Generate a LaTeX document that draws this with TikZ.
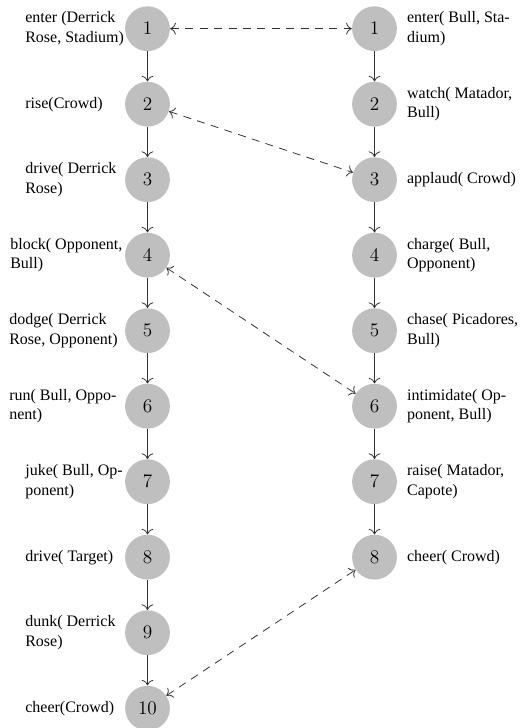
\documentclass[tikz,border=0pt]{standalone}
\usepackage{fontspec}
\setmainfont{Liberation Serif}
\usepackage{tikz}
\usetikzlibrary{arrows,arrows.meta,positioning}

\tikzset{
  >={To[scale=1.3]},
  event/.style={circle, fill=black!25, minimum size=28pt, inner sep=0pt, font=\large},
  evlabel/.style={inner sep=0pt, align=left},
  step line/.style={->, line width=0.5pt, black!80},
  link/.style={<->, line width=0.5pt, black!80, dash pattern=on 5pt off 4pt},
}

\begin{document}
\begin{tikzpicture}[x=0.625pt, y=-0.625pt]
    \useasboundingbox (0,0) rectangle (527,728);

    % Basketball story (left)
    \node[event] (b1) at (147.5,28.7) {$1$};
    \node[event] (b2) at (147.5,104.2) {$2$};
    \node[event] (b3) at (147.5,179.7) {$3$};
    \node[event] (b4) at (147.5,255.2) {$4$};
    \node[event] (b5) at (147.5,330.7) {$5$};
    \node[event] (b6) at (147.5,406.2) {$6$};
    \node[event] (b7) at (147.5,481.7) {$7$};
    \node[event] (b8) at (147.5,557.2) {$8$};
    \node[event] (b9) at (147.5,632.7) {$9$};
    \node[event] (b10) at (147.5,708.2) {$10$};

    \node[evlabel, anchor=west] (b1t) at (25,28.7) {enter (Derrick\\Rose, Stadium)};
    \node[evlabel, anchor=west] (b2t) at (25,104.2) {rise(Crowd)};
    \node[evlabel, anchor=west] (b3t) at (25,179.7) {drive( Derrick\\Rose)};
    \node[evlabel, anchor=west] (b4t) at (10,255.2) {block( Opponent,\\Bull)};
    \node[evlabel, anchor=west] (b5t) at (9,330.7) {dodge( Derrick\\Rose, Opponent)};
    \node[evlabel, anchor=west] (b6t) at (9,406.2) {run( Bull, Oppo-\\nent)};
    \node[evlabel, anchor=west] (b7t) at (25,481.7) {juke( Bull, Op-\\ponent)};
    \node[evlabel, anchor=west] (b8t) at (25,557.2) {drive( Target)};
    \node[evlabel, anchor=west] (b9t) at (25,632.7) {dunk( Derrick\\Rose)};
    \node[evlabel, anchor=west] (b10t) at (25,708.2) {cheer(Crowd)};

    \draw[step line] (b1) -- (b2);
    \draw[step line] (b2) -- (b3);
    \draw[step line] (b3) -- (b4);
    \draw[step line] (b4) -- (b5);
    \draw[step line] (b5) -- (b6);
    \draw[step line] (b6) -- (b7);
    \draw[step line] (b7) -- (b8);
    \draw[step line] (b8) -- (b9);
    \draw[step line] (b9) -- (b10);

    % Bullfight story (right)
    \node[event] (f1) at (374.5,28.7) {$1$};
    \node[event] (f2) at (374.5,104.2) {$2$};
    \node[event] (f3) at (374.5,179.7) {$3$};
    \node[event] (f4) at (374.5,255.2) {$4$};
    \node[event] (f5) at (374.5,330.7) {$5$};
    \node[event] (f6) at (374.5,406.2) {$6$};
    \node[event] (f7) at (374.5,481.7) {$7$};
    \node[event] (f8) at (374.5,557.2) {$8$};

    \node[evlabel, right=6pt of f1] (f1t) {enter( Bull, Sta-\\dium)};
    \node[evlabel, right=6pt of f2] (f2t) {watch( Matador,\\Bull)};
    \node[evlabel, right=6pt of f3] (f3t) {applaud( Crowd)};
    \node[evlabel, right=6pt of f4] (f4t) {charge( Bull,\\Opponent)};
    \node[evlabel, right=6pt of f5] (f5t) {chase( Picadores,\\Bull)};
    \node[evlabel, right=6pt of f6] (f6t) {intimidate( Op-\\ponent, Bull)};
    \node[evlabel, right=6pt of f7] (f7t) {raise( Matador,\\Capote)};
    \node[evlabel, right=6pt of f8] (f8t) {cheer( Crowd)};

    \draw[step line] (f1) -- (f2);
    \draw[step line] (f2) -- (f3);
    \draw[step line] (f3) -- (f4);
    \draw[step line] (f4) -- (f5);
    \draw[step line] (f5) -- (f6);
    \draw[step line] (f6) -- (f7);
    \draw[step line] (f7) -- (f8);

    % Alignment between the two stories
    \draw[link] (b1) -- (f1);
    \draw[link] (b2) -- (f3);
    \draw[link] (b4) -- (f6);
    \draw[link] (b10) -- (f8);
\end{tikzpicture}
\end{document}
